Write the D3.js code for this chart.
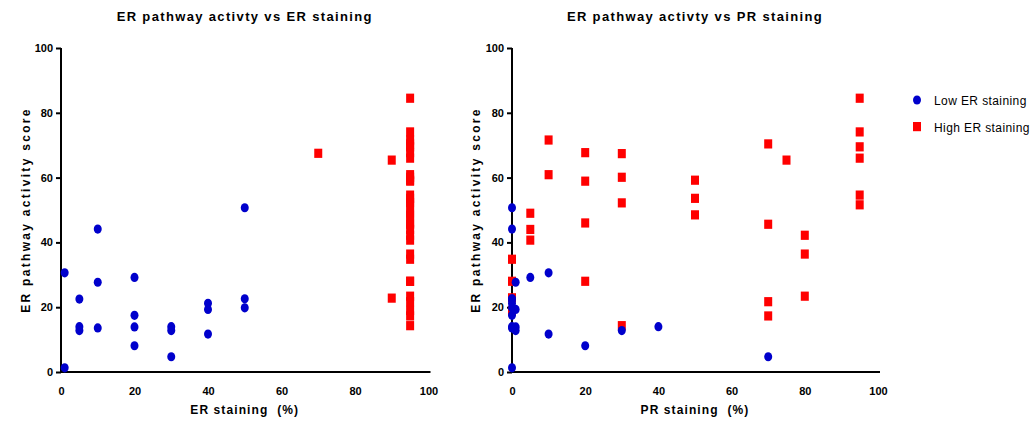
<!DOCTYPE html>
<html>
<head>
<meta charset="utf-8">
<script src="https://cdn.jsdelivr.net/npm/d3@7"></script>
<style>
  html, body { margin: 0; padding: 0; background: #fff; }
  svg { display: block; font-family: "Liberation Sans", Arial, sans-serif; }
  text { white-space: pre; }
</style>
</head>
<body>
<svg id="chart" width="1032" height="421"></svg>
<script>
// ---------- data ----------
const xTicks = [0, 20, 40, 60, 80, 100];
const yTicks = [0, 20, 40, 60, 80, 100];

// Panel 1: ER staining (%) vs score
const erLowX  = [1, 1, 5, 5, 5, 10, 10, 10, 20, 20, 20, 20, 30, 30, 30, 40, 40, 40, 50, 50, 50];
const erLowY  = [30.6, 1.3, 22.5, 14, 12.8, 44.1, 27.7, 13.6, 29.2, 17.5, 13.9, 8.1, 14, 12.8, 4.7, 21.2, 19.3, 11.7, 50.7, 22.6, 19.8];
const erHighX = [70, 90, 90,
  95, 95, 95, 95, 95, 95, 95, 95, 95, 95, 95, 95, 95, 95, 95, 95,
  95, 95, 95, 95, 95, 95, 95, 95, 95, 95, 95, 95, 95, 95, 95];
const erHighY = [67.5, 65.4, 22.8,
  84.5, 74.1, 71.6, 70.4, 69.5, 67.7, 66, 60.9, 60.1, 59.2, 58.9, 54.6, 53.6, 52.2, 51.6, 49,
  48.5, 46, 45.6, 44, 42.2, 40.7, 36.4, 34.8, 28, 28, 23.4, 21.7, 19, 17.3, 14.3];

// Panel 2: PR staining (%) vs score
const prLowX  = [0, 0, 0, 0, 0, 0, 0, 0, 0, 0, 1, 1, 1, 1, 5, 10, 10, 20, 30, 40, 70];
const prLowY  = [50.7, 44.1, 22.5, 22.6, 21.2, 19.8, 17.5, 13.6, 14, 1.3, 27.7, 19.3, 13.9, 12.8, 29.2, 30.6, 11.7, 8.1, 12.8, 14, 4.7];
const prHighX = [0, 0, 0, 0, 5, 5, 5, 10, 10, 20, 20, 20, 20, 30, 30, 30, 30, 50, 50, 50,
  70, 70, 70, 70, 75, 80, 80, 80, 95, 95, 95, 95, 95, 95];
const prHighY = [34.8, 28, 22.9, 19, 49, 44, 40.7, 71.6, 60.9, 67.7, 58.9, 46, 28, 67.4, 60.1, 52.2, 14.3, 59.2, 53.6, 48.5,
  70.4, 45.6, 21.7, 17.3, 65.4, 42.2, 36.4, 23.4, 84.5, 74.1, 69.5, 66, 54.6, 51.6];

const seriesNames = ["Low ER staining", "High ER staining"];
const titles = ["ER pathway activty vs ER staining", "ER pathway activty vs PR staining"];
const xLabels = ["ER staining  (%)", "PR staining  (%)"];
const yLabel = "ER pathway activity score";

// ---------- drawing ----------
const BLUE = "#0000cc", RED = "#ff0000";
const svg = d3.select("#chart");

const panels = [
  { x0: 61, x1: 428.5, yLab: 29.5, low: [erLowX, erLowY], high: [erHighX, erHighY], title: titles[0], xl: xLabels[0] },
  { x0: 512, x1: 878, yLab: 479.5, low: [prLowX, prLowY], high: [prHighX, prHighY], title: titles[1], xl: xLabels[1] }
];

const yTop = 48, yBot = 372;

panels.forEach(p => {
  const x = d3.scaleLinear().domain([0, 100]).range([p.x0, p.x1]);
  const y = d3.scaleLinear().domain([0, 100]).range([yBot, yTop]);
  const g = svg.append("g");

  // y axis
  const ya = g.append("g").attr("transform", `translate(${p.x0},0)`)
    .call(d3.axisLeft(y).tickValues(yTicks).tickSize(5).tickPadding(3).tickSizeOuter(0));
  ya.select(".domain").attr("stroke", "#000").attr("stroke-width", 2).attr("d", `M0,${yTop}V${yBot + 1}`);
  ya.selectAll(".tick line").attr("stroke", "#000").attr("stroke-width", 2);
  ya.selectAll(".tick text").attr("font-size", 11).attr("font-weight", "bold").attr("fill", "#000")
    .attr("font-family", "Liberation Sans, Arial, sans-serif");

  // x axis
  const xa = g.append("g").attr("transform", `translate(0,${yBot})`)
    .call(d3.axisBottom(x).tickValues(xTicks).tickSize(0).tickPadding(15).tickSizeOuter(0));
  xa.select(".domain").attr("stroke", "#000").attr("stroke-width", 2).attr("d", `M${p.x0 - 1},0H${p.x1 + 2}`);
  xa.selectAll(".tick text").attr("font-size", 11).attr("font-weight", "bold").attr("fill", "#000")
    .attr("font-family", "Liberation Sans, Arial, sans-serif");

  // title
  g.append("text").attr("x", (p.x0 + p.x1) / 2).attr("y", 21).attr("text-anchor", "middle")
    .attr("font-size", 13).attr("font-weight", "bold").attr("letter-spacing", 1.35).text(p.title);

  // x label
  g.append("text").attr("x", (p.x0 + p.x1) / 2).attr("y", 414).attr("text-anchor", "middle")
    .attr("font-size", 12).attr("font-weight", "bold").attr("letter-spacing", 1.1).text(p.xl);

  // y label
  g.append("text").attr("transform", `translate(${p.yLab},${(yTop + yBot) / 2}) rotate(-90)`)
    .attr("text-anchor", "middle").attr("font-size", 12).attr("font-weight", "bold")
    .attr("letter-spacing", 2.3).text(yLabel);

  // high (red squares)
  const hi = d3.range(p.high[0].length).map(i => [p.high[0][i], p.high[1][i]]);
  g.append("g").selectAll("rect").data(hi).join("rect")
    .attr("x", d => x(d[0]) - 4).attr("y", d => y(d[1]) - 4.6)
    .attr("width", 8).attr("height", 9.2).attr("fill", RED);

  // low (blue circles)
  const lo = d3.range(p.low[0].length).map(i => [p.low[0][i], p.low[1][i]]);
  g.append("g").selectAll("ellipse").data(lo).join("ellipse")
    .attr("cx", d => x(d[0])).attr("cy", d => y(d[1]))
    .attr("rx", 4).attr("ry", 4.6).attr("fill", BLUE);
});

// legend
const leg = svg.append("g");
leg.append("ellipse").attr("cx", 917).attr("cy", 100).attr("rx", 4).attr("ry", 4.6).attr("fill", BLUE);
leg.append("rect").attr("x", 913).attr("y", 122).attr("width", 8).attr("height", 9.2).attr("fill", RED);
leg.selectAll("text.lg").data(seriesNames).join("text").attr("class", "lg")
  .attr("x", 934).attr("y", (d, i) => 104.5 + i * 27)
  .attr("font-size", 12).attr("letter-spacing", 0.4).attr("fill", "#000").text(d => d);
</script>
</body>
</html>
